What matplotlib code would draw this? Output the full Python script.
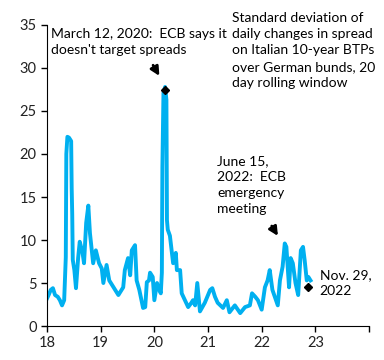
import matplotlib
matplotlib.use('Agg')
import matplotlib.pyplot as plt

plt.rcParams['font.family'] = ['Lato', 'DejaVu Sans']

# fractional year (18 = 2018) and rolling std dev of BTP-Bund spread changes
years = [18.00, 18.03, 18.07, 18.11, 18.15, 18.20, 18.24, 18.28, 18.32, 18.35,
         18.36, 18.38, 18.41, 18.45, 18.46, 18.47, 18.48, 18.51, 18.54, 18.58, 18.61,
         18.66, 18.69, 18.73, 18.77, 18.80, 18.86, 18.91, 18.97, 19.02, 19.05,
         19.11, 19.16, 19.27, 19.33, 19.42, 19.45, 19.51, 19.55, 19.58, 19.64,
         19.67, 19.72, 19.79, 19.83, 19.86, 19.90, 19.92, 19.97, 20.00, 20.05,
         20.07, 20.12, 20.14, 20.15, 20.17, 20.20, 20.225, 20.235, 20.25, 20.29, 20.35,
         20.40, 20.42, 20.48, 20.51, 20.57, 20.63, 20.69, 20.72, 20.76, 20.80,
         20.85, 20.94, 21.04, 21.08, 21.13, 21.18, 21.28, 21.35, 21.40, 21.50,
         21.60, 21.69, 21.78, 21.82, 21.88, 21.93, 22.00, 22.06, 22.11, 22.15,
         22.20, 22.30, 22.34, 22.39, 22.43, 22.46, 22.51, 22.54, 22.58, 22.63,
         22.68, 22.73, 22.77, 22.80, 22.84, 22.87, 22.91]
stdev = [3.2, 3.6, 4.2, 4.4, 3.6, 3.4, 3.0, 2.4, 3.0, 8.0,
         20.0, 22.0, 21.9, 21.5, 16.0, 13.0, 7.7, 6.5, 4.4, 7.9, 9.8,
         8.6, 7.3, 12.0, 14.0, 10.8, 7.3, 8.8, 7.3, 6.7, 5.0,
         7.1, 5.3, 4.2, 3.6, 4.5, 6.5, 7.9, 5.9, 8.8, 9.4,
         5.3, 4.2, 2.1, 2.2, 5.1, 5.3, 6.2, 5.7, 3.0, 5.0,
         4.5, 3.8, 6.2, 18.5, 27.1, 27.8, 26.3, 12.3, 11.2, 10.5, 7.3,
         8.5, 6.5, 6.5, 3.8, 3.0, 2.2, 2.7, 3.0, 2.4, 5.0,
         1.7, 2.7, 4.2, 4.4, 3.4, 2.7, 2.1, 3.0, 1.6, 2.4,
         1.5, 2.2, 2.4, 3.8, 3.4, 3.0, 1.9, 4.5, 5.3, 6.5,
         4.2, 2.4, 5.3, 6.9, 9.6, 9.2, 4.5, 7.9, 7.3, 5.0,
         3.6, 8.8, 9.2, 7.7, 5.3, 5.7, 5.3]

events_x = [20.19, 22.87]
events_y = [27.4, 4.5]

fig = plt.figure(figsize=(3.84, 3.6), dpi=100)
ax = fig.add_axes([0.1224, 0.0944, 0.8386, 0.8362])

ax.plot(years, stdev, color='#00B0F0', linewidth=2.8, solid_joinstyle='round')
ax.plot(events_x, events_y, linestyle='none', marker='D', color='black', markersize=4.5)

ax.set_xlim(18, 24)
ax.set_ylim(0, 35)
ax.set_xticks(range(18, 25))
ax.set_xticklabels(['18', '19', '20', '21', '22', '23', ''])
ax.set_yticks(range(0, 36, 5))
ax.tick_params(labelsize=10.5, length=4, width=1, colors='black', labelcolor='#222222')
ax.spines['top'].set_visible(False)
ax.spines['right'].set_visible(False)

fs = 10
ax.text(18.08, 34.7, "March 12, 2020:  ECB says it\ndoesn't target spreads",
        fontsize=fs, va='top', ha='left', linespacing=1.42)
ax.text(21.45, 36.5, "Standard deviation of\ndaily changes in spread\non Italian 10-year BTPs\nover German bunds, 20\nday rolling window",
        fontsize=fs, va='top', ha='left', linespacing=1.42)
ax.text(21.17, 19.9, "June 15,\n2022:  ECB\nemergency\nmeeting",
        fontsize=fs, va='top', ha='left', linespacing=1.42)
ax.text(23.08, 6.6, "Nov. 29,\n2022",
        fontsize=fs, va='top', ha='left', linespacing=1.42)

ax.annotate('', xy=(20.12, 28.8), xytext=(19.95, 30.6),
            arrowprops=dict(arrowstyle='-|>', color='black', lw=2, mutation_scale=13))
ax.annotate('', xy=(22.33, 10.2), xytext=(22.16, 11.9),
            arrowprops=dict(arrowstyle='-|>', color='black', lw=2, mutation_scale=13))

fig.savefig('out.png', dpi=100)
